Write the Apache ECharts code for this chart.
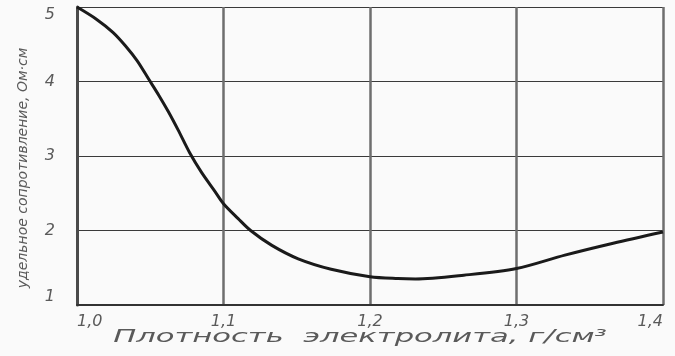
<!DOCTYPE html>
<html>
<head>
<meta charset="utf-8">
<script src="https://cdn.jsdelivr.net/npm/echarts@6/dist/echarts.min.js"></script>
<style>html,body{margin:0;padding:0;background:#fafafa;}#c{width:675px;height:356px;}</style>
</head>
<body>
<div id="c"></div>
<script>
const density = [1.0, 1.013, 1.0245, 1.033, 1.041, 1.049, 1.056, 1.0625, 1.069, 1.077, 1.085, 1.094, 1.1, 1.11, 1.1185, 1.133, 1.151, 1.1735, 1.2, 1.219, 1.231, 1.264, 1.3, 1.333, 1.366, 1.4];
const resistivity = [5.0, 4.84, 4.66, 4.48, 4.28, 4.03, 3.81, 3.59, 3.35, 3.04, 2.78, 2.53, 2.36, 2.16, 2.0, 1.80, 1.62, 1.48, 1.38, 1.355, 1.35, 1.40, 1.49, 1.67, 1.83, 1.98];
const xTitle = 'Плотность  электролита, г/см³';
const yTitle = 'удельное сопротивление, Ом·см';

const chart = echarts.init(document.getElementById('c'));
const textColor = '#5a5a5a';
chart.setOption({
  backgroundColor: '#fafafa',
  animation: false,
  grid: {left: 77, right: 12, top: 7, bottom: 51},
  xAxis: {
    type: 'value', min: 1.0, max: 1.4, interval: 0.1,
    axisLine: {show: true, lineStyle: {color: '#333', width: 2}},
    axisTick: {show: false},
    splitLine: {show: true, lineStyle: {color: '#6e6e6e', width: 2.5}},
    axisLabel: {
      margin: 9, color: textColor, fontSize: 16, fontStyle: 'italic', fontFamily: 'DejaVu Sans',
      alignMinLabel: 'left', alignMaxLabel: 'right',
      formatter: v => v.toFixed(1).replace('.', ',')
    }
  },
  yAxis: {
    type: 'value', min: 1, max: 5, interval: 1,
    axisLine: {show: true, lineStyle: {color: '#4a4a4a', width: 3}},
    axisTick: {show: false},
    splitLine: {show: true, lineStyle: {color: '#3a3a3a', width: 1.2}},
    axisLabel: {
      margin: 22, color: textColor, fontSize: 16, fontStyle: 'italic', fontFamily: 'DejaVu Sans',
      verticalAlignMinLabel: 'bottom', verticalAlignMaxLabel: 'top'
    }
  },
  graphic: [
    {type: 'text', x: 360, y: 338, scaleX: 1.8,
     style: {text: xTitle, fill: textColor, font: 'italic 17px "DejaVu Sans"', align: 'center', verticalAlign: 'middle'}},
    {type: 'text', x: 23, y: 168, rotation: Math.PI / 2,
     style: {text: yTitle, fill: textColor, font: 'italic 14px "DejaVu Sans"', align: 'center', verticalAlign: 'middle'}}
  ],
  series: [{
    type: 'line',
    data: density.map((d, i) => [d, resistivity[i]]),
    smooth: 0.3,
    showSymbol: false,
    lineStyle: {color: '#1a1a1a', width: 3},
    clip: false
  }]
});
</script>
</body>
</html>
